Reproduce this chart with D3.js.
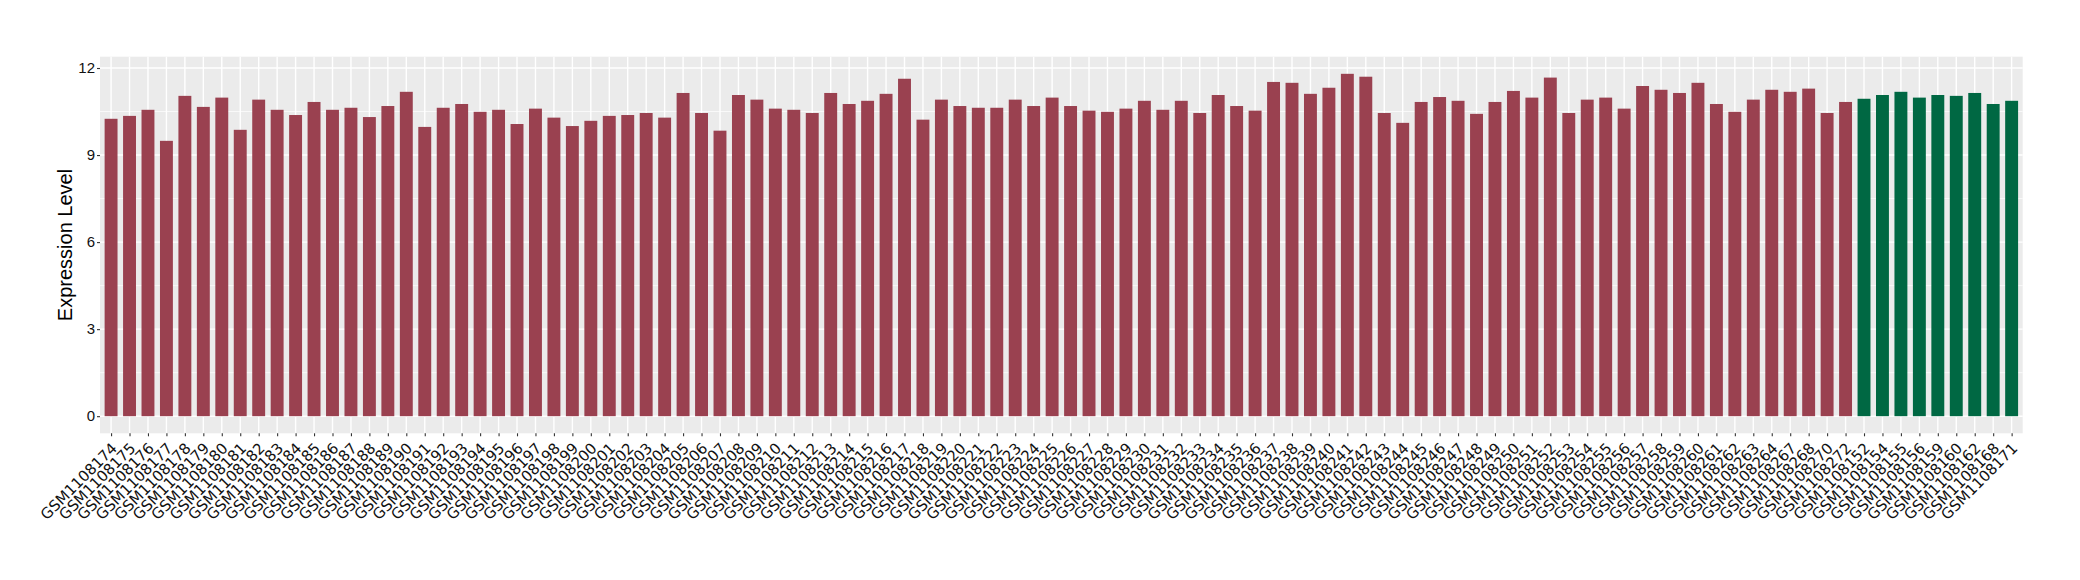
<!DOCTYPE html>
<html>
<head>
<meta charset="utf-8">
<script src="https://cdn.jsdelivr.net/npm/d3@7"></script>
<style>
    body { margin: 0; background: #ffffff; }
</style>
</head>
<body>
<div class="chart"></div>
<script>
// sample ids, tumour group first then normal group
var tumourSamples = ["GSM1108174", "GSM1108175", "GSM1108176", "GSM1108177", "GSM1108178", "GSM1108179", "GSM1108180", "GSM1108181", "GSM1108182", "GSM1108183",
    "GSM1108184", "GSM1108185", "GSM1108186", "GSM1108187", "GSM1108188", "GSM1108189", "GSM1108190", "GSM1108191", "GSM1108192", "GSM1108193",
    "GSM1108194", "GSM1108195", "GSM1108196", "GSM1108197", "GSM1108198", "GSM1108199", "GSM1108200", "GSM1108201", "GSM1108202", "GSM1108203",
    "GSM1108204", "GSM1108205", "GSM1108206", "GSM1108207", "GSM1108208", "GSM1108209", "GSM1108210", "GSM1108211", "GSM1108212", "GSM1108213",
    "GSM1108214", "GSM1108215", "GSM1108216", "GSM1108217", "GSM1108218", "GSM1108219", "GSM1108220", "GSM1108221", "GSM1108222", "GSM1108223",
    "GSM1108224", "GSM1108225", "GSM1108226", "GSM1108227", "GSM1108228", "GSM1108229", "GSM1108230", "GSM1108231", "GSM1108232", "GSM1108233",
    "GSM1108234", "GSM1108235", "GSM1108236", "GSM1108237", "GSM1108238", "GSM1108239", "GSM1108240", "GSM1108241", "GSM1108242", "GSM1108243",
    "GSM1108244", "GSM1108245", "GSM1108246", "GSM1108247", "GSM1108248", "GSM1108249", "GSM1108250", "GSM1108251", "GSM1108252", "GSM1108253",
    "GSM1108254", "GSM1108255", "GSM1108256", "GSM1108257", "GSM1108258", "GSM1108259", "GSM1108260", "GSM1108261", "GSM1108262", "GSM1108263",
    "GSM1108264", "GSM1108267", "GSM1108268", "GSM1108270", "GSM1108272"];

var tumourValues = [10.25, 10.35, 10.56, 9.49, 11.04, 10.66, 10.98, 9.87, 10.91, 10.56,
    10.38, 10.83, 10.56, 10.63, 10.31, 10.69, 11.18, 9.97, 10.63, 10.76,
    10.49, 10.56, 10.07, 10.60, 10.29, 10.00, 10.18, 10.35, 10.38, 10.45,
    10.29, 11.14, 10.45, 9.84, 11.07, 10.91, 10.60, 10.56, 10.45, 11.14,
    10.76, 10.87, 11.11, 11.63, 10.22, 10.91, 10.69, 10.63, 10.63, 10.91,
    10.69, 10.98, 10.69, 10.53, 10.49, 10.60, 10.87, 10.56, 10.87, 10.45,
    11.07, 10.69, 10.53, 11.52, 11.49, 11.11, 11.32, 11.80, 11.70, 10.45,
    10.11, 10.83, 11.00, 10.87, 10.42, 10.83, 11.21, 10.98, 11.67, 10.45,
    10.91, 10.98, 10.60, 11.38, 11.25, 11.14, 11.49, 10.76, 10.49, 10.91,
    11.25, 11.18, 11.29, 10.45, 10.83];

var normalSamples = ["GSM1108152", "GSM1108154", "GSM1108155", "GSM1108156", "GSM1108159", "GSM1108160", "GSM1108162", "GSM1108168", "GSM1108171"];
var normalValues = [10.94, 11.07, 11.18, 10.98, 11.07, 11.04, 11.14, 10.76, 10.87];

var yTicks = [0, 3, 6, 9, 12];
var yMinorTicks = [1.5, 4.5, 7.5, 10.5];
var yTitle = "Expression Level";

var groupColors = { tumour: "#9a4150", normal: "#006843" };

// flatten into rows for d3
var rows = tumourSamples.map(function(s, i) {
    return { sample: s, value: tumourValues[i], group: "tumour" };
}).concat(normalSamples.map(function(s, i) {
    return { sample: s, value: normalValues[i], group: "normal" };
}));

var width = 2080,
    height = 580;

var panel = { left: 100, right: 2022.7, top: 56.7, bottom: 433.3 };

var svg = d3.select(".chart")
    .append("svg")
    .attr("width", width)
    .attr("height", height);

svg.append("rect")
    .attr("width", width)
    .attr("height", height)
    .style("fill", "#ffffff");

// ggplot style discrete scale, 0.6 expansion on both ends
var x = d3.scalePoint()
    .domain(rows.map(function(d) { return d.sample; }))
    .range([panel.left, panel.right])
    .padding(0.6);

var maxVal = d3.max(rows, function(d) { return d.value; });
var y = d3.scaleLinear()
    .domain([-0.05 * maxVal, 1.05 * maxVal])
    .range([panel.bottom, panel.top]);

var barWidth = x.step() * 0.7;

// panel background + grid
svg.append("rect")
    .attr("x", panel.left)
    .attr("y", panel.top)
    .attr("width", panel.right - panel.left)
    .attr("height", panel.bottom - panel.top)
    .style("fill", "#ebebeb");

var grid = svg.append("g").attr("class", "grid");

grid.selectAll(".minor")
    .data(yMinorTicks)
    .enter().append("line")
    .attr("x1", panel.left)
    .attr("x2", panel.right)
    .attr("y1", function(d) { return y(d); })
    .attr("y2", function(d) { return y(d); })
    .style("stroke", "#ffffff")
    .style("stroke-width", 0.7);

grid.selectAll(".major-y")
    .data(yTicks)
    .enter().append("line")
    .attr("x1", panel.left)
    .attr("x2", panel.right)
    .attr("y1", function(d) { return y(d); })
    .attr("y2", function(d) { return y(d); })
    .style("stroke", "#ffffff")
    .style("stroke-width", 1.4);

grid.selectAll(".major-x")
    .data(x.domain())
    .enter().append("line")
    .attr("x1", function(d) { return x(d); })
    .attr("x2", function(d) { return x(d); })
    .attr("y1", panel.top)
    .attr("y2", panel.bottom)
    .style("stroke", "#ffffff")
    .style("stroke-width", 1.4);

// bars
svg.append("g")
    .attr("class", "bars")
    .selectAll("rect")
    .data(rows)
    .enter().append("rect")
    .attr("x", function(d) { return x(d.sample) - barWidth / 2; })
    .attr("width", barWidth)
    .attr("y", function(d) { return y(d.value); })
    .attr("height", function(d) { return y(0) - y(d.value); })
    .style("fill", function(d) { return groupColors[d.group]; });

// y axis
var yAxis = svg.append("g")
    .attr("transform", "translate(" + panel.left + ",0)")
    .call(d3.axisLeft(y).tickValues(yTicks).tickSize(3).tickPadding(2).tickFormat(d3.format("d")));

yAxis.select(".domain").remove();
yAxis.selectAll(".tick line").style("stroke", "#333333").style("stroke-width", 1.1);
yAxis.selectAll(".tick text")
    .style("font-family", "'Liberation Sans', Arial, sans-serif")
    .style("font-size", "15px")
    .style("fill", "#111111");

// x axis
var xAxis = svg.append("g")
    .attr("transform", "translate(0," + panel.bottom + ")")
    .call(d3.axisBottom(x).tickSize(3).tickPadding(0));

xAxis.select(".domain").remove();
xAxis.selectAll(".tick line").style("stroke", "#333333").style("stroke-width", 1.1);
xAxis.selectAll(".tick text")
    .attr("x", 0)
    .attr("y", 0)
    .attr("dy", null)
    .attr("transform", "translate(6.5,16) rotate(-45)")
    .style("text-anchor", "end")
    .style("font-family", "'DejaVu Sans', sans-serif")
    .style("font-size", "15px")
    .style("fill", "#111111");

// axis title
svg.append("text")
    .attr("transform", "translate(65," + ((panel.top + panel.bottom) / 2) + ") rotate(-90)")
    .attr("dy", "0.35em")
    .style("text-anchor", "middle")
    .style("font-family", "'Liberation Sans', Arial, sans-serif")
    .style("font-size", "20px")
    .style("fill", "#000000")
    .text(yTitle);
</script>
</body>
</html>
